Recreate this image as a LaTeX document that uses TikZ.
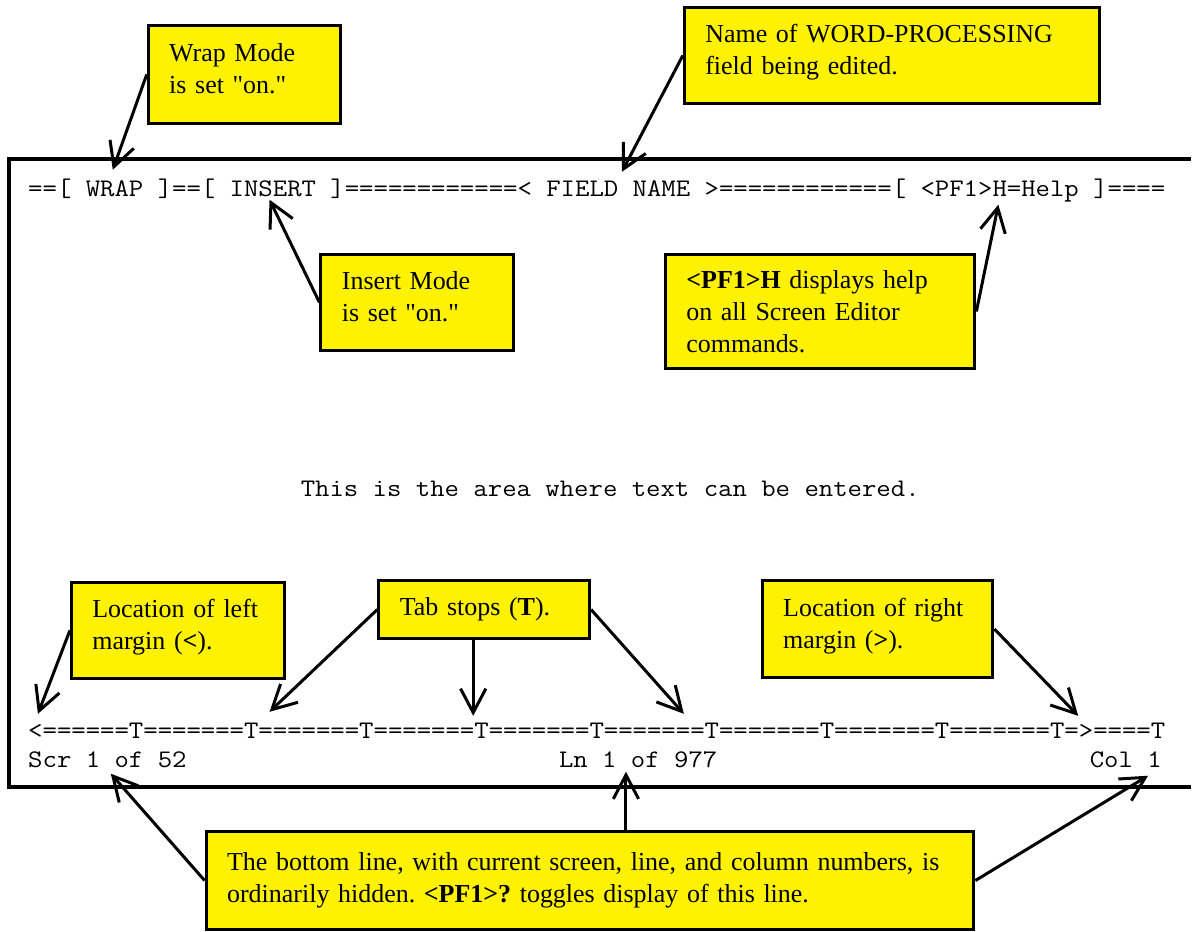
\documentclass[tikz,border=0pt]{standalone}
\usepackage{fontspec}
\usepackage{graphicx}
\newfontfamily\notefont{Liberation Serif}
\usetikzlibrary{arrows.meta,calc}
\newcommand{\monoline}[1]{\scalebox{1.105}[1]{#1}}
\frenchspacing

\begin{document}
\begin{tikzpicture}[x=0.75pt,y=-0.75pt,
        note/.style={draw, line width=2.25pt, fill=yellow, anchor=north west, align=left,
            inner xsep=15.75pt, inner ysep=0pt, font=\notefont\fontsize{19.5}{24}\selectfont},
        lifted/.style={execute at end node={\rule[-9pt]{0pt}{0pt}}},
        screen/.style={anchor=base west, inner sep=0pt, font=\ttfamily\fontsize{19}{22}\selectfont},
        pointer/.style={line width=2.25pt, -{Straight Barb[length=18pt,width=19pt]}},
        frame/.style={line width=3pt}]
        \path[fill=white] (0,0) rectangle (1193,926);
        \draw[frame] (1193,159) -| (9,788) -- (1193,788);
        \node[screen] (topline) at (28,197) {\monoline{==[ WRAP ]==[ INSERT ]============< FIELD NAME >============[ <PF1>H=Help ]====}};
        \node[screen] (textarea) at (301,497) {\monoline{This is the area where text can be entered.}};
        \node[screen] (ruler) at (28,740) {\monoline{<======T=======T=======T=======T=======T=======T=======T=======T=======T=>====T}};
        \node[screen] (scrinfo) at (28,769) {\monoline{Scr 1 of 52}};
        \node[screen] (lninfo) at (559.7,769) {\monoline{Ln 1 of 977}};
        \node[screen] (colinfo) at (1091.4,769) {\monoline{Col 1}};
        \node[note, lifted, text width=113.25pt, minimum height=73.5pt] (wrapnote) at (147,24) {Wrap Mode\\is set "on."};
        \node[note, lifted, text width=280.5pt, minimum height=72pt] (fieldnote) at (684,6) {Name of WORD-PROCESSING\\field being edited.};
        \node[note, lifted, text width=113.25pt, minimum height=72.75pt] (insertnote) at (320,253) {Insert Mode\\is set "on."};
        \node[note, text width=201pt, minimum height=86.25pt] (helpnote) at (665,253) {\textbf{<PF1>H} displays help\\on all Screen Editor\\commands.};
        \node[note, lifted, text width=128.25pt, minimum height=72pt] (leftnote) at (70,582) {Location of left\\margin (\textbf{<}).};
        \node[note, text width=126.75pt, minimum height=43.5pt] (tabnote) at (378,580) {Tab stops (\textbf{T}).};
        \node[note, lifted, text width=141.75pt, minimum height=72.75pt] (rightnote) at (762,580) {Location of right\\margin (\textbf{>}).};
        \node[note, text width=545.25pt, minimum height=74.25pt] (bottomnote) at (205,831) {The bottom line, with current screen, line, and column numbers, is\\ordinarily hidden. \textbf{<PF1>?} toggles display of this line.};
        \coordinate (wraptip) at (113,170);
        \coordinate (fieldtip) at (623,172);
        \coordinate (inserttip) at (270,200);
        \coordinate (helptip) at (1000,205);
        \coordinate (lefttip) at (38,715);
        \coordinate (tabtipa) at (270,713);
        \coordinate (tabtipb) at (474,717);
        \coordinate (tabtipc) at (685,715);
        \coordinate (righttip) at (1080,717);
        \coordinate (scrtip) at (111,775);
        \coordinate (lntip) at (627,773);
        \coordinate (coltip) at (1150,777);
        \draw[pointer] (wrapnote.west) -- (wraptip);
        \draw[pointer] (fieldnote.west) -- (fieldtip);
        \draw[pointer] (insertnote.west) -- (inserttip);
        \draw[pointer] (helpnote.east) -- (helptip);
        \draw[pointer] (leftnote.west) -- (lefttip);
        \draw[pointer] (tabnote.west) -- (tabtipa);
        \draw[pointer] (tabnote.south -| tabtipb) -- (tabtipb);
        \draw[pointer] (tabnote.east) -- (tabtipc);
        \draw[pointer] (rightnote.east) -- (righttip);
        \draw[pointer] (bottomnote.west) -- (scrtip);
        \draw[pointer] (bottomnote.north -| lntip) -- (lntip);
        \draw[pointer] (bottomnote.east) -- (coltip);
    \end{tikzpicture}
\end{document}
